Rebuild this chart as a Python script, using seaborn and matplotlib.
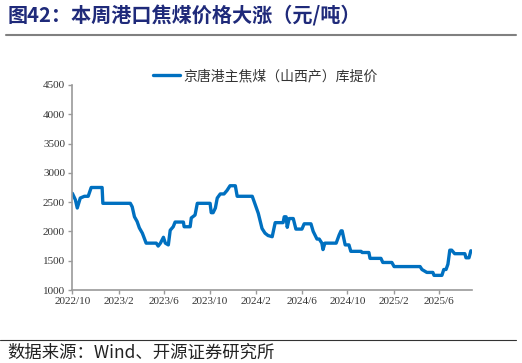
import pandas as pd
import matplotlib
matplotlib.use("Agg")
import matplotlib.pyplot as plt
from matplotlib.lines import Line2D
import seaborn as sns

# 京唐港主焦煤（山西产）库提价，元/吨（从原图读取的拐点）
dates = ["2022-10-01", "2022-10-09", "2022-10-14", "2022-10-22", "2022-11-02", "2022-11-12",
         "2022-11-20", "2022-12-19", "2022-12-21", "2023-03-04", "2023-03-09", "2023-03-15",
         "2023-03-22", "2023-03-28", "2023-04-05", "2023-04-15", "2023-05-12", "2023-05-17",
         "2023-05-23", "2023-05-31", "2023-06-05", "2023-06-13", "2023-06-18", "2023-06-26",
         "2023-07-01", "2023-07-23", "2023-07-25", "2023-08-10", "2023-08-13", "2023-08-23",
         "2023-08-29", "2023-10-02", "2023-10-05", "2023-10-10", "2023-10-16", "2023-10-21",
         "2023-10-29", "2023-11-08", "2023-11-16", "2023-11-24", "2023-12-08", "2023-12-13",
         "2024-01-22", "2024-01-27", "2024-02-07", "2024-02-17", "2024-02-25", "2024-03-04",
         "2024-03-15", "2024-03-23", "2024-04-13", "2024-04-16", "2024-04-21", "2024-04-24",
         "2024-04-29", "2024-05-10", "2024-05-17", "2024-06-02", "2024-06-08", "2024-06-26",
         "2024-07-02", "2024-07-12", "2024-07-18", "2024-07-25", "2024-07-28", "2024-08-02",
         "2024-09-01", "2024-09-09", "2024-09-14", "2024-09-17", "2024-09-25", "2024-10-05",
         "2024-10-10", "2024-11-06", "2024-11-09", "2024-11-27", "2024-11-30", "2024-12-29",
         "2025-01-03", "2025-01-27", "2025-02-02", "2025-04-12", "2025-04-17", "2025-04-30",
         "2025-05-16", "2025-05-19", "2025-06-09", "2025-06-14", "2025-06-20", "2025-06-25",
         "2025-06-30", "2025-07-05", "2025-07-13", "2025-08-09", "2025-08-12", "2025-08-20",
         "2025-08-25"]
prices = [2650, 2540, 2400, 2570, 2600, 2600,
          2750, 2750, 2480, 2480, 2420, 2250,
          2170, 2060, 1970, 1800, 1800, 1750,
          1800, 1900, 1800, 1770, 2020, 2080,
          2160, 2160, 2080, 2080, 2230, 2280,
          2480, 2480, 2320, 2320, 2400, 2570,
          2640, 2640, 2700, 2780, 2780, 2600,
          2600, 2510, 2310, 2050, 1970, 1930,
          1910, 2150, 2150, 2250, 2250, 2070,
          2220, 2220, 2040, 2040, 2130, 2130,
          2000, 1870, 1870, 1800, 1690, 1800,
          1800, 1940, 2010, 2010, 1770, 1770,
          1660, 1660, 1640, 1640, 1540, 1540,
          1470, 1470, 1400, 1400, 1350, 1300,
          1300, 1250, 1250, 1350, 1350, 1440,
          1680, 1680, 1620, 1620, 1550, 1550,
          1670]

tick_dates = ["2022-10-01", "2023-02-01", "2023-06-01", "2023-10-01", "2024-02-01",
              "2024-06-01", "2024-10-01", "2025-02-01", "2025-06-01"]
tick_labels = ["2022/10", "2023/2", "2023/6", "2023/10", "2024/2",
               "2024/6", "2024/10", "2025/2", "2025/6"]
y_ticks = [1000, 1500, 2000, 2500, 3000, 3500, 4000, 4500]

series_name = "京唐港主焦煤（山西产）库提价"
df = pd.DataFrame({"date": pd.to_datetime(dates), "price": prices})

sns.set_style("white")
plt.rcParams["font.family"] = ["Noto Sans CJK SC", "DejaVu Sans"]

fig = plt.figure(figsize=(5.22, 3.63), dpi=100)
ax = fig.add_axes([72 / 522, 1 - 290 / 363, 400 / 522, 205 / 363])

sns.lineplot(data=df, x="date", y="price", ax=ax, color="#0070C0", linewidth=2.4, label=series_name)

ax.set_ylim(1000, 4500)
ax.set_yticks(y_ticks)
ax.set_xlim(pd.Timestamp("2022-09-30"), pd.Timestamp("2025-08-28"))
ax.set_xticks(pd.to_datetime(tick_dates))
ax.set_xticklabels(tick_labels)
ax.set_xlabel("")
ax.set_ylabel("")

for lbl in ax.get_xticklabels() + ax.get_yticklabels():
    lbl.set_fontfamily("Liberation Serif")
    lbl.set_fontsize(8)
    lbl.set_color("#333333")

for side in ["top", "right"]:
    ax.spines[side].set_visible(False)
for side in ["left", "bottom"]:
    ax.spines[side].set_color("#9a9a9a")
    ax.spines[side].set_linewidth(1.2)
ax.tick_params(axis="both", which="major", length=3, width=1, color="#9a9a9a", pad=2,
               bottom=True, left=True)

ax.legend(loc="center", bbox_to_anchor=(0.4825, 1 + 9 / 205), frameon=False,
          handlelength=1.95, handletextpad=0.25, borderpad=0,
          prop={"family": ["Noto Sans CJK SC"], "size": 10}, labelcolor="#333333")

# 标题、分隔线和资料来源
fig.text(8 / 522, 1 - 16 / 363, "图42：本周港口焦煤价格大涨（元/吨）", fontsize=14.5,
         fontweight="bold", color="#1F2A7A", va="center", ha="left")
fig.add_artist(Line2D([6 / 522, 516 / 522], [1 - 35 / 363, 1 - 35 / 363], color="#808080",
                      linewidth=1.5, transform=fig.transFigure))
fig.add_artist(Line2D([0, 516 / 522], [1 - 340 / 363, 1 - 340 / 363], color="#333333",
                      linewidth=0.8, transform=fig.transFigure))
fig.text(7 / 522, 1 - 353 / 363, "数据来源：Wind、开源证券研究所", fontsize=12.5,
         color="#222222", va="center", ha="left")

fig.savefig("out.png", dpi=100)
